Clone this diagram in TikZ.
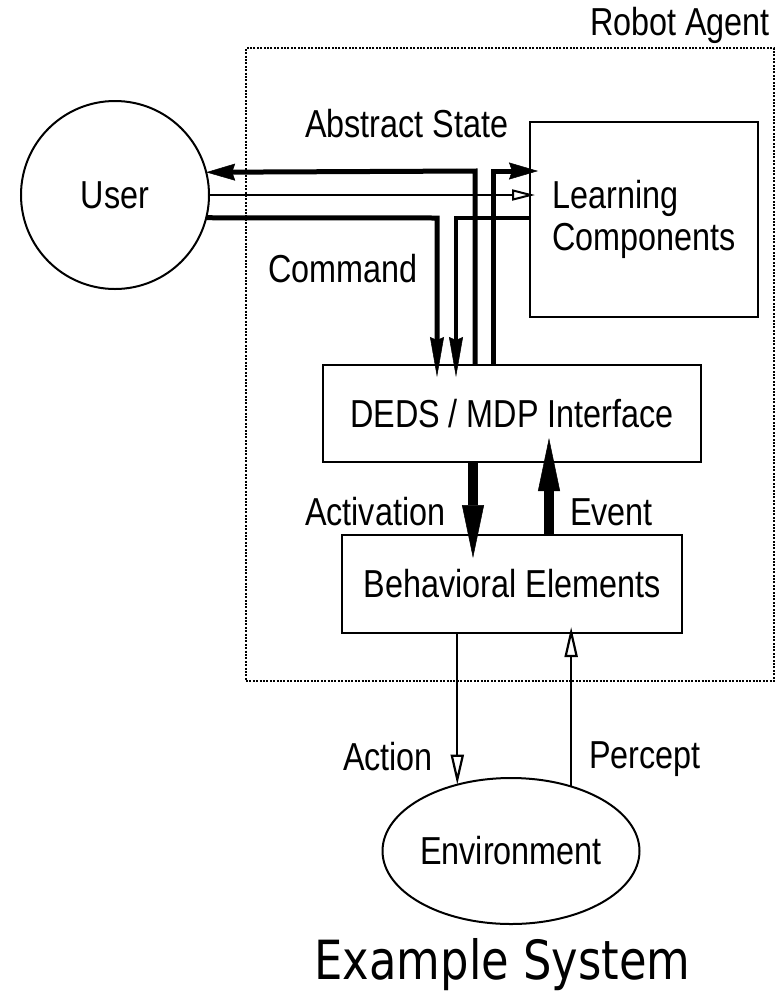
\documentclass[tikz,border=0pt]{standalone}
\usepackage{fontspec}
\newfontfamily\helv[FakeStretch=0.83]{Liberation Sans}
\newfontfamily\tah[FakeStretch=0.83]{DejaVu Sans}
\usetikzlibrary{arrows.meta,shapes.geometric,calc}
\begin{document}
\begin{tikzpicture}[x=1pt,y=-1pt,
  lbl/.style={font=\helv\fontsize{39}{42}\selectfont, inner sep=0pt, outer sep=0pt},
  box/.style={draw, line width=2pt, inner sep=0pt, outer sep=0pt, lbl},
  frame/.style={draw, line width=2pt, dash pattern=on 2pt off 1.4pt, inner sep=0pt, outer sep=0pt},
  thk/.style={line width=5pt, line join=miter},
  thn/.style={line width=2pt},
  fat/.style={line width=10pt},
  headA/.style={-{Stealth[length=29pt,width=17pt,inset=3pt,line width=0.5pt]}},
  headC/.style={-{Stealth[length=40pt,width=14pt,inset=3pt,line width=0.5pt]}},
  headF/.style={-{Triangle[length=53pt,width=22pt,line width=0.5pt]}},
  headO/.style={-{Triangle[open,length=30pt,width=13pt,line width=2.2pt]}},
  headT/.style={-{Triangle[open,length=23pt,width=11pt,line width=2pt]}},
]
\useasboundingbox (0,0) rectangle (776,994);

% frame
\node[frame, minimum width=528pt, minimum height=633pt] (agent) at (510,364.5) {};
\node[lbl, anchor=base east] (agentlbl) at (770,35) {Robot Agent};

% nodes
\node[box, circle, minimum size=188pt] (User) at (115,195) {User};
\node[box, minimum width=228pt, minimum height=195pt, align=left] (LC) at (644,219.5) {Learning\\Components};
\node[box, minimum width=378pt, minimum height=97pt] (DEDS) at (512,413.5) {DEDS / MDP Interface};
\node[box, minimum width=340pt, minimum height=98pt] (BE) at (512,584) {Behavioral Elements};
\node[box, ellipse, minimum width=230pt, minimum height=146pt] (Env) at (511,851) {Environment};

% labels
\node[lbl, anchor=base west] (labs) at (305,137) {Abstract State};
\node[lbl, anchor=base west] (lcmd) at (268,282) {Command};
\node[lbl, anchor=base west] (lact) at (305,525) {Activation};
\node[lbl, anchor=base west] (levt) at (570,525) {Event};
\node[lbl, anchor=base west] (laction) at (343,770) {Action};
\node[lbl, anchor=base west] (lperc) at (589,768) {Percept};
\node[font=\tah\fontsize{54}{60}\selectfont, inner sep=0pt, anchor=base] (title) at (502.5,979) {Example System};

% corner coordinates
\coordinate (c1) at (475,171);
\coordinate (c2) at (493,171);
\coordinate (c4) at (437,218);
\coordinate (c5) at (456,218);
\coordinate (c6) at (473,0);
\coordinate (c7) at (549,0);

% top connectors
\draw[thk, headA] (c1 |- DEDS.north) -- (c1) -- (User.14.6);
\draw[thk, headA, shorten >=-8pt] (c2 |- DEDS.north) -- (c2) -- (c2 -| LC.west);
\draw[thn, headT, shorten >=-5pt] (User.east) -- (User.east -| LC.west);
\draw[thk, headC, shorten >=-12pt] (User.-14) -- (c4) -- (c4 |- DEDS.north);
\draw[line width=4.5pt, line join=miter, headC, shorten >=-12pt] (c5 -| LC.west) -- (c5) -- (c5 |- DEDS.north);

% activation / event
\draw[fat, headF, shorten >=-23pt] (c6 |- DEDS.south) -- (c6 |- BE.north);
\draw[fat, headF, shorten >=-24pt] (c7 |- BE.north) -- (c7 |- DEDS.south);

% action / percept
\draw[thn, headO] (Env.129.5 |- BE.south) -- (Env.129.5);
\draw[thn, headO, shorten >=-6pt] (Env.47.9) -- (Env.47.9 |- BE.south);
\end{tikzpicture}
\end{document}
